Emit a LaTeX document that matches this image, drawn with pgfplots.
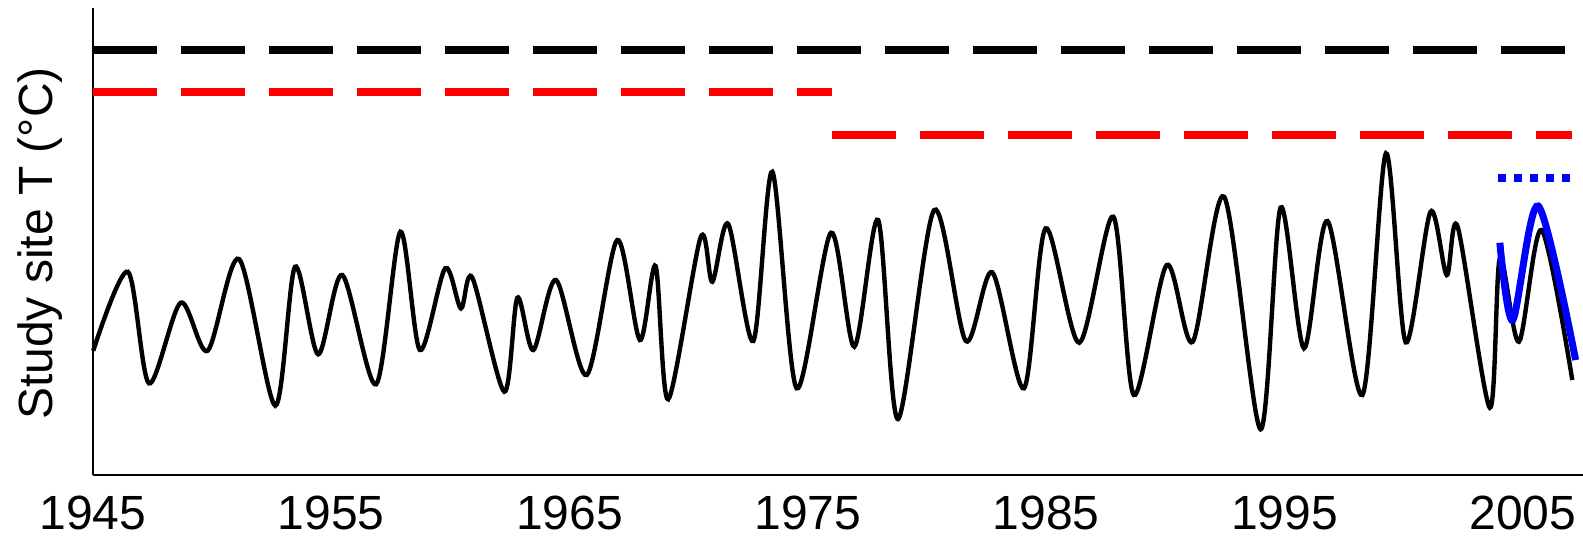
\documentclass[border=0pt]{standalone}
\usepackage{fontspec}
\setmainfont{Liberation Sans}
\usepackage{pgfplots}
\pgfplotsset{compat=1.18}

% study site temperature series: peaks and troughs (arbitrary T units)
\begin{document}
\begin{tikzpicture}
\begin{axis}[
    scale only axis,
    width=745pt, height=233.3pt,
    xmin=1945, xmax=2007.53,
    ymin=0, ymax=466.7,
    axis x line*=bottom,
    axis y line*=left,
    axis line style={line width=1pt},
    major tick length=0pt,
    xtick={1945,1955,1965,1975,1985,1995,2005},
    xticklabels={1945,1955,1965,1975,1985,1995,2005},
    xticklabel style={font=\fontsize{24}{28}\selectfont, yshift=-7pt},
    ytick=\empty,
    clip=false,
]
\coordinate (O) at (rel axis cs:0,0);
\coordinate (L) at (rel axis cs:0,0.889);

% long-term means
\addplot[black, line width=4pt, dash pattern=on 32pt off 12pt] coordinates {(1945,425) (2007.05,425)};
\addplot[red, line width=4pt, dash pattern=on 32pt off 12pt] coordinates {(1945,382.7) (1976.0,382.7)};
\addplot[red, line width=4pt, dash pattern=on 32pt off 12pt] coordinates {(1976.0,340) (2007.05,340)};
\addplot[blue, line width=4pt, dash pattern=on 4pt off 4pt] coordinates {(2003.96,297) (2007.05,297)};

% annual series
\addplot[black, line width=2.2pt, smooth] coordinates {
    (1945.01,124.3) (1946.46,203.3) (1947.35,91.7) (1948.68,172.3) (1949.81,124.3)
    (1951.13,216) (1952.65,69.3) (1953.48,208.3) (1954.45,120.7) (1955.46,200)
    (1956.88,90.7) (1957.90,243.3) (1958.72,125) (1959.78,206.7) (1960.44,166.7)
    (1960.92,197.3) (1962.26,83.3) (1962.81,177.3) (1963.48,125) (1964.43,195)
    (1965.72,100) (1967.00,235) (1967.95,135) (1968.61,209) (1969.14,75.7)
    (1970.50,237.7) (1970.99,193.3) (1971.66,251) (1972.71,134) (1973.51,303.3)
    (1974.53,86.7) (1975.97,242.3) (1976.95,128.3) (1977.95,255) (1978.78,56)
    (1980.30,265) (1981.63,134) (1982.74,202.7) (1984.07,86.7) (1984.98,246.7)
    (1986.39,132.3) (1987.82,258.3) (1988.68,80) (1990.06,210) (1991.15,133.3)
    (1992.47,278.3) (1994.00,45.7) (1994.84,267.5) (1995.82,126.7) (1996.81,254)
    (1998.27,80) (1999.26,321.7) (2000.09,132.7) (2001.13,263.3) (2001.81,200)
    (2002.27,248.3) (2003.62,67.3) (2004.04,216.7) (2004.84,133.3) (2005.79,245)
    (2007.08,95)
};

% recent series
\addplot[blue, line width=3.5pt, smooth] coordinates {
    (2004.04,232.3) (2004.58,155) (2005.65,269) (2007.22,115)
};
\end{axis}
\node[rotate=90, anchor=base east, font=\fontsize{24}{28}\selectfont]
    at ([xshift=-20.5pt]L) {Study site T (°C)};
\pgfresetboundingbox
\path ([shift={(-46.5pt,-32pt)}]O) rectangle ++(791.5pt,269.5pt);
\end{tikzpicture}
\end{document}
